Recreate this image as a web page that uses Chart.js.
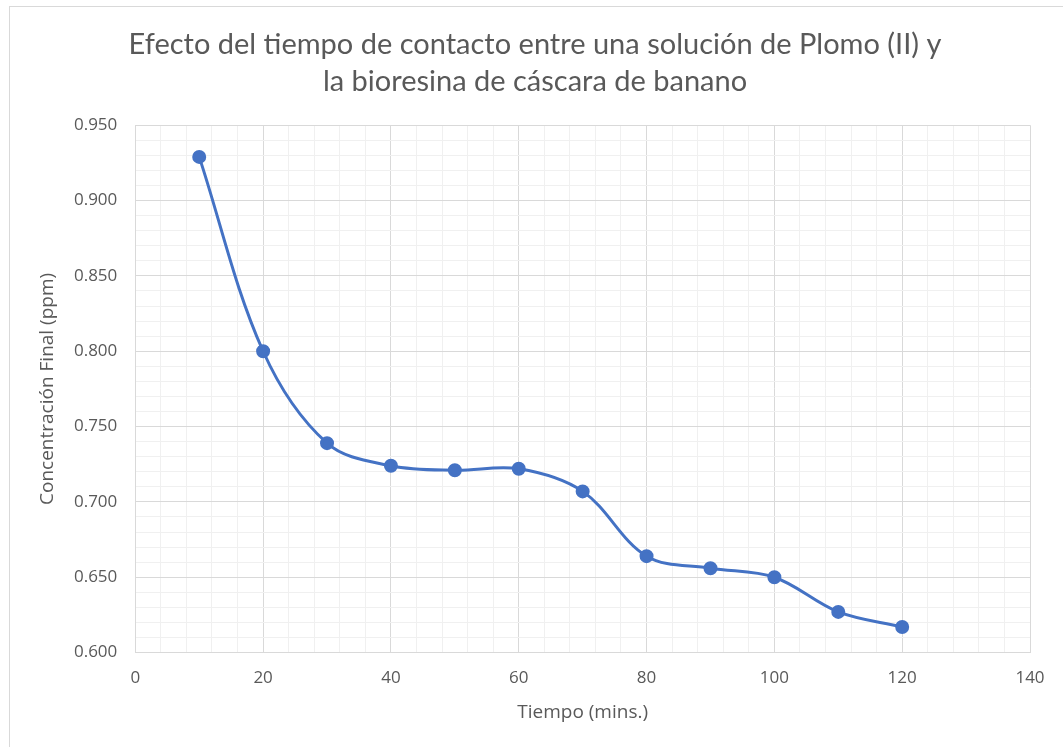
<!DOCTYPE html>
<html>
<head>
<meta charset="utf-8">
<script src="https://cdn.jsdelivr.net/npm/chart.js@4"></script>
<style>
    html, body { margin: 0; padding: 0; background: #fff; overflow: hidden; }
    #frame {
        position: absolute;
        left: 9px;
        top: 6px;
        width: 1058px;
        height: 760px;
        border: 1px solid #d9d9d9;
    }
    #chart { display: block; }
</style>
</head>
<body>
<div id="frame">
    <canvas id="chart" width="1058" height="740"></canvas>
</div>
<script>
// datos
const tiempos = [10, 20, 30, 40, 50, 60, 70, 80, 90, 100, 110, 120];
const concentracion = [0.929, 0.800, 0.739, 0.724, 0.721, 0.722, 0.707, 0.664, 0.656, 0.650, 0.627, 0.617];

const tituloLineas = ['Efecto del tiempo de contacto entre una solución de Plomo (II) y', 'la bioresina de cáscara de banano'];
const tituloX = 'Tiempo (mins.)';
const tituloY = 'Concentración Final (ppm)';

const xMin = 0, xMax = 140, xMajor = 20, xMinor = 4;
const yMin = 0.6, yMax = 0.95, yMajor = 0.05, yMinor = 0.01;

const textColor = '#595959';
const majorGrid = '#d9d9d9';
const minorGrid = '#f0f0f0';

const isMajorX = v => Math.abs(v / xMajor - Math.round(v / xMajor)) < 1e-6;
const isMajorY = v => Math.abs(v / yMajor - Math.round(v / yMajor)) < 1e-6;

const puntos = tiempos.map((t, i) => ({ x: t, y: concentracion[i] }));

const ctx = document.getElementById('chart').getContext('2d');
new Chart(ctx, {
    type: 'scatter',
    data: {
        datasets: [{
            data: puntos,
            showLine: true,
            tension: 0.35,
            borderColor: '#4472C4',
            backgroundColor: '#4472C4',
            borderWidth: 3,
            pointRadius: 5.5,
            pointHoverRadius: 5.5
        }]
    },
    options: {
        responsive: false,
        animation: false,
        layout: { padding: { left: 30, right: 38, top: 6, bottom: 25 } },
        plugins: {
            legend: { display: false },
            tooltip: { enabled: false },
            title: {
                display: true,
                text: tituloLineas,
                color: textColor,
                font: { family: 'Lato', size: 29, weight: 'normal', lineHeight: 1.28 },
                padding: { top: 13, bottom: 25 }
            }
        },
        scales: {
            x: {
                type: 'linear',
                min: xMin,
                max: xMax,
                grid: {
                    drawTicks: false,
                    color: c => (c.tick && isMajorX(c.tick.value)) ? majorGrid : minorGrid,
                    lineWidth: 1
                },
                border: { color: majorGrid },
                ticks: {
                    stepSize: xMinor,
                    autoSkip: false,
                    maxRotation: 0,
                    padding: 15,
                    color: textColor,
                    font: { family: 'Open Sans', size: 17 },
                    callback: v => isMajorX(v) ? String(Math.round(v)) : ''
                },
                title: {
                    display: true,
                    text: tituloX,
                    color: textColor,
                    font: { family: 'Open Sans', size: 19, lineHeight: 1 },
                    padding: 0
                }
            },
            y: {
                type: 'linear',
                min: yMin,
                max: yMax,
                grid: {
                    drawTicks: false,
                    color: c => (c.tick && isMajorY(c.tick.value)) ? majorGrid : minorGrid,
                    lineWidth: 1
                },
                border: { color: majorGrid },
                ticks: {
                    stepSize: yMinor,
                    autoSkip: false,
                    padding: 18,
                    color: textColor,
                    font: { family: 'Open Sans', size: 17 },
                    callback: v => isMajorY(v) ? v.toFixed(3) : ''
                },
                title: {
                    display: true,
                    text: tituloY,
                    color: textColor,
                    font: { family: 'Open Sans', size: 19, lineHeight: 0.84 },
                    padding: 0
                }
            }
        }
    }
});
</script>
</body>
</html>
